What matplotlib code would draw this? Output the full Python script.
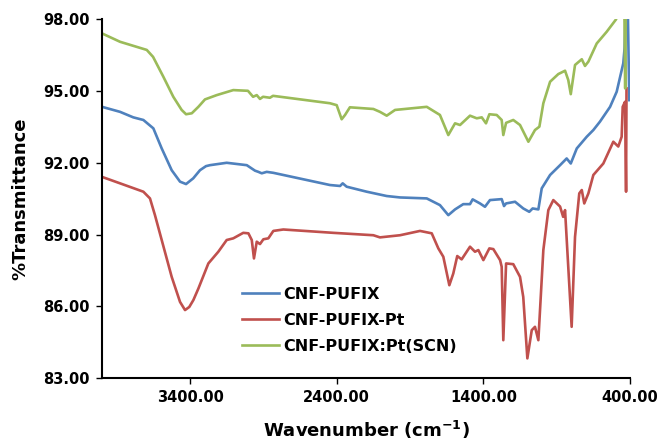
import matplotlib
matplotlib.use('Agg')
import matplotlib.pyplot as plt

plt.rcParams['font.family'] = 'DejaVu Sans'
plt.rcParams['mathtext.fontset'] = 'dejavusans'

# CNF-PUFIX
wn_blue = [4000, 3877, 3787, 3718, 3650, 3593, 3525, 3468, 3427, 3378, 3332, 3291, 3264, 3150,
           3013, 2957, 2934, 2911, 2877, 2832, 2446, 2377, 2359, 2332, 2195, 2059,
           1968, 1786, 1696, 1639, 1593, 1537, 1491, 1473, 1423, 1389, 1355, 1275,
           1259, 1245, 1184, 1128, 1087, 1064, 1025, 1002, 945, 877, 832, 804, 763,
           695, 650, 605, 536, 491, 446, 437, 424, 418, 405]
t_blue = [94.34, 94.13, 93.90, 93.79, 93.44, 92.60, 91.69, 91.21, 91.11, 91.35, 91.69, 91.86, 91.90, 92.00,
          91.90, 91.67, 91.62, 91.56, 91.62, 91.58, 91.07, 91.03, 91.14, 91.00, 90.79, 90.61,
          90.55, 90.51, 90.23, 89.81, 90.05, 90.27, 90.27, 90.47, 90.30, 90.16, 90.44, 90.48,
          90.19, 90.30, 90.37, 90.09, 89.95, 90.09, 90.05, 90.93, 91.49, 91.90, 92.18, 91.97, 92.60,
          93.09, 93.37, 93.72, 94.34, 94.97, 96.16, 96.80, 99.50, 99.50, 94.62]

# CNF-PUFIX-Pt
wn_red = [4000, 3877, 3718, 3673, 3639, 3593, 3525, 3468, 3434, 3405, 3377, 3343, 3275, 3207,
          3150, 3105, 3037, 3002, 2979, 2964, 2945, 2923, 2900, 2866, 2832, 2764, 2423, 2150,
          2105, 1968, 1832, 1752, 1707, 1673, 1632, 1605, 1578, 1548, 1491, 1457,
          1434, 1400, 1359, 1332, 1286, 1275, 1264, 1245, 1196, 1150, 1128, 1100,
          1070, 1048, 1025, 991, 957, 923, 877, 856, 843, 798, 775, 746, 729, 712,
          684, 650, 582, 514, 480, 457, 450, 434, 427, 424]
t_red = [91.41, 91.14, 90.79, 90.51, 89.81, 88.77, 87.23, 86.18, 85.84, 85.97, 86.26, 86.74, 87.79, 88.28,
         88.77, 88.84, 89.07, 89.05, 88.77, 88.00, 88.70, 88.60, 88.80, 88.84, 89.15, 89.21, 89.07, 88.97,
         88.88, 88.97, 89.15, 89.05, 88.42, 88.07, 86.88, 87.37, 88.10, 87.96, 88.49, 88.28,
         88.35, 87.93, 88.42, 88.39, 87.93, 87.65, 84.58, 87.79, 87.76, 87.23, 86.39, 83.82,
         85.00, 85.14, 84.58, 88.35, 90.02, 90.44, 90.17, 89.74, 90.02, 85.14, 88.90, 90.72, 90.86, 90.30,
         90.72, 91.49, 91.97, 92.88, 92.68, 93.09, 94.34, 94.55, 90.79, 95.11]

# CNF-PUFIX:Pt(SCN)
wn_green = [4000, 3877, 3695, 3652, 3582, 3514, 3457, 3427, 3388, 3343, 3298, 3218, 3105, 3005,
            2970, 2945, 2923, 2902, 2855, 2834, 2446, 2400, 2366, 2343, 2310, 2150,
            2105, 2059, 2002, 1786, 1696, 1639, 1593, 1559, 1491, 1445, 1411, 1382,
            1359, 1309, 1275, 1264, 1245, 1196, 1150, 1093, 1048, 1018, 991, 945, 889,
            843, 821, 804, 775, 729, 707, 684, 627, 559, 495, 470, 440, 433, 427, 400]
t_green = [97.41, 97.06, 96.72, 96.43, 95.60, 94.76, 94.21, 94.03, 94.07, 94.34, 94.65, 94.83, 95.04, 95.01,
           94.76, 94.83, 94.67, 94.76, 94.72, 94.80, 94.49, 94.41, 93.82, 94.00, 94.32, 94.25,
           94.13, 93.97, 94.21, 94.34, 94.00, 93.16, 93.65, 93.58, 93.97, 93.86, 93.90, 93.65,
           94.03, 94.00, 93.79, 93.16, 93.67, 93.79, 93.58, 92.88, 93.37, 93.51, 94.49, 95.39, 95.71,
           95.85, 95.46, 94.87, 96.09, 96.33, 96.05, 96.23, 96.99, 97.48, 98.00, 98.60, 99.30, 95.11, 99.50, 99.80]

labels = ['CNF-PUFIX', 'CNF-PUFIX-Pt', 'CNF-PUFIX:Pt(SCN)']
colors = ['#4F81BD', '#C0504D', '#9BBB59']
xticks = [3400, 2400, 1400, 400]
yticks = [83, 86, 89, 92, 95, 98]

fig = plt.figure(figsize=(6.62, 4.45), dpi=100)
ax = fig.add_axes([0.1541, 0.1506, 0.7976, 0.806])

ax.plot(wn_blue, t_blue, color=colors[0], lw=1.9, label=labels[0])
ax.plot(wn_red, t_red, color=colors[1], lw=1.9, label=labels[1])
ax.plot(wn_green, t_green, color=colors[2], lw=1.9, label=labels[2])

ax.set_xlim(4000, 400)
ax.set_ylim(83, 98)
ax.set_xticks(xticks)
ax.set_xticklabels(['%.2f' % v for v in xticks])
ax.set_yticks(yticks)
ax.set_yticklabels(['%.2f' % v for v in yticks])

for s in ['top', 'right']:
    ax.spines[s].set_visible(False)
for s in ['left', 'bottom']:
    ax.spines[s].set_linewidth(1.5)
ax.tick_params(axis='both', direction='out', length=4, width=1, labelsize=10.5, pad=5)
for lab in ax.get_xticklabels() + ax.get_yticklabels():
    lab.set_fontweight('bold')

ax.set_xlabel(r'Wavenumber (cm$^{\mathbf{-1}}$)', fontsize=13, fontweight='bold', labelpad=10)
ax.set_ylabel('%Transmittance', fontsize=13, fontweight='bold', labelpad=10)

leg = ax.legend(loc='upper left', bbox_to_anchor=(0.3656, 0.3553), bbox_transform=fig.transFigure,
                frameon=False, prop={'size': 11.5, 'weight': 'bold'}, handlelength=2.3,
                handletextpad=0.25, labelspacing=0.68, borderpad=0, borderaxespad=0)

fig.savefig('out.png', dpi=100)
